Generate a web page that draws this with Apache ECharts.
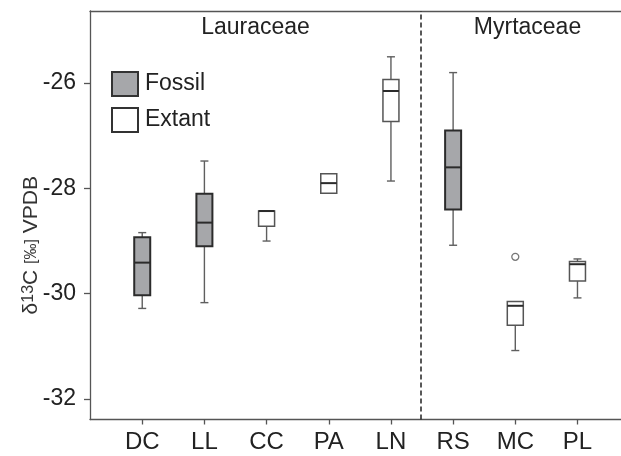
<!DOCTYPE html>
<html>
<head>
<meta charset="utf-8">
<script src="https://cdn.jsdelivr.net/npm/echarts@6/dist/echarts.min.js"></script>
<style>html,body{margin:0;padding:0;background:#fff}#c{width:621px;height:456px}</style>
</head>
<body>
<div id="c"></div>
<script>
const categories = ['DC', 'LL', 'CC', 'PA', 'LN', 'RS', 'MC', 'PL'];
const yTicks = [-32, -30, -28, -26];
// [min, Q1, median, Q3, max]
const fossilCats = ['DC', 'LL', 'RS'];
const fossilStats = [
  [-30.28, -30.03, -29.41, -28.93, -28.84],
  [-30.17, -29.10, -28.65, -28.10, -27.48],
  [-29.08, -28.40, -27.60, -26.90, -25.80]
];
const extantCats = ['CC', 'PA', 'LN', 'MC', 'PL'];
const extantStats = [
  [-29.00, -28.72, -28.43, -28.43, -28.43],
  [-28.09, -28.09, -27.90, -27.72, -27.72],
  [-27.86, -26.73, -26.15, -25.93, -25.50],
  [-31.08, -30.60, -30.23, -30.15, -30.15],
  [-30.08, -29.76, -29.44, -29.39, -29.34]
];
const outlierCats = ['MC'];
const outlierVals = [-29.30];
const groupNames = ['Lauraceae', 'Myrtaceae'];

const FONT = '"Liberation Sans", Arial, Helvetica, sans-serif';
const pos = c => categories.indexOf(c) + 1;
const build = (cats, stats) => cats.map((c, i) => [pos(c)].concat(stats[i]));

function makeRender(st) {
  return function (params, api) {
    const x = api.value(0);
    const vmin = api.value(1), q1 = api.value(2), med = api.value(3), q3 = api.value(4), vmax = api.value(5);
    const pMin = api.coord([x, vmin]), pQ1 = api.coord([x, q1]), pMed = api.coord([x, med]),
          pQ3 = api.coord([x, q3]), pMax = api.coord([x, vmax]);
    const cx = pMin[0], hw = 8, cw = 4;
    const wStyle = { stroke: '#5f5f5f', lineWidth: 1.4 };
    const ch = [];
    if (Math.abs(pMax[1] - pQ3[1]) > 0.5) {
      ch.push({ type: 'line', shape: { x1: cx, y1: pMax[1], x2: cx, y2: pQ3[1] }, style: wStyle });
      ch.push({ type: 'line', shape: { x1: cx - cw, y1: pMax[1], x2: cx + cw, y2: pMax[1] }, style: wStyle });
    }
    if (Math.abs(pMin[1] - pQ1[1]) > 0.5) {
      ch.push({ type: 'line', shape: { x1: cx, y1: pQ1[1], x2: cx, y2: pMin[1] }, style: wStyle });
      ch.push({ type: 'line', shape: { x1: cx - cw, y1: pMin[1], x2: cx + cw, y2: pMin[1] }, style: wStyle });
    }
    ch.push({ type: 'rect', shape: { x: cx - hw, y: pQ3[1], width: hw * 2, height: pQ1[1] - pQ3[1] },
      style: { fill: st.fill, stroke: st.stroke, lineWidth: st.lw } });
    ch.push({ type: 'line', shape: { x1: cx - hw, y1: pMed[1], x2: cx + hw, y2: pMed[1] },
      style: { stroke: '#2b2b2b', lineWidth: 2 } });
    return { type: 'group', children: ch };
  };
}

const fossilStyle = { fill: '#a6a7aa', stroke: '#2b2b2b', lw: 2 };
const extantStyle = { fill: '#ffffff', stroke: '#555555', lw: 1.5 };

const chart = echarts.init(document.getElementById('c'), null, { renderer: 'canvas' });
const axisLineStyle = { color: '#555', width: 1.3 };
chart.setOption({
  animation: false,
  textStyle: { fontFamily: FONT },
  grid: { left: 90, right: 0, top: 11, bottom: 36.5, containLabel: false },
  xAxis: [{
    type: 'value', min: 0.16, max: 8.7,
    axisLine: { show: true, lineStyle: axisLineStyle },
    axisTick: { show: true, length: 5, lineStyle: axisLineStyle, customValues: categories.map((c, i) => i + 1) },
    axisLabel: { customValues: categories.map((c, i) => i + 1), formatter: v => categories[Math.round(v) - 1] || '',
      fontSize: 24, color: '#222', margin: 11, fontFamily: FONT },
    splitLine: { show: false }
  }, {
    type: 'value', position: 'top', min: 0.16, max: 8.7,
    axisLine: { show: true, onZero: false, lineStyle: axisLineStyle },
    axisTick: { show: false }, axisLabel: { show: false }, splitLine: { show: false }
  }],
  yAxis: {
    type: 'value', min: -32.39, max: -24.63,
    axisLine: { show: true, lineStyle: axisLineStyle },
    axisTick: { show: true, length: 6, lineStyle: axisLineStyle, customValues: yTicks },
    axisLabel: { customValues: yTicks, fontSize: 23, color: '#222', margin: 14, fontFamily: FONT },
    splitLine: { show: false },
    name: 'δ{s|13}C {b|[‰]} VPDB',
    nameLocation: 'middle', nameGap: 48, nameMoveOverlap: false,
    nameTextStyle: { fontSize: 21, color: '#333', fontFamily: FONT, padding: [0, 60, 0, 0],
      rich: { s: { fontSize: 16, verticalAlign: 'top', color: '#333', fontFamily: FONT },
              b: { fontSize: 16, color: '#333', fontFamily: FONT } } }
  },
  legend: {
    orient: 'vertical', left: 106, top: 66, itemWidth: 26, itemHeight: 24, itemGap: 10,
    icon: 'rect',
    textStyle: { fontSize: 23, color: '#222', fontFamily: FONT, padding: [0, 0, 0, 2] },
    data: [
      { name: 'Fossil', itemStyle: { color: '#a6a7aa', borderColor: '#333', borderWidth: 2 } },
      { name: 'Extant', itemStyle: { color: '#fff', borderColor: '#333', borderWidth: 2 } }
    ]
  },
  graphic: [
    { type: 'text', style: { text: groupNames[0], font: '23px ' + FONT, fill: '#222', textAlign: 'center', textVerticalAlign: 'middle' }, x: 255.5, y: 28 },
    { type: 'text', style: { text: groupNames[1], font: '23px ' + FONT, fill: '#222', textAlign: 'center', textVerticalAlign: 'middle' }, x: 527.5, y: 28 }
  ],
  series: [
    { type: 'custom', name: 'Fossil', renderItem: makeRender(fossilStyle), data: build(fossilCats, fossilStats),
      itemStyle: { color: '#a6a7aa', borderColor: '#333' }, encode: { x: 0, y: [1, 2, 3, 4, 5] },
      markLine: { silent: true, symbol: 'none', label: { show: false },
        lineStyle: { color: '#222', width: 1.5, type: [5, 3] }, data: [{ xAxis: 5.48 }] } },
    { type: 'custom', name: 'Extant', renderItem: makeRender(extantStyle), data: build(extantCats, extantStats),
      itemStyle: { color: '#fff', borderColor: '#333' }, encode: { x: 0, y: [1, 2, 3, 4, 5] } },
    { type: 'scatter', name: 'outlier', data: outlierCats.map((c, i) => [pos(c), outlierVals[i]]),
      symbol: 'circle', symbolSize: 7, itemStyle: { color: '#fff', borderColor: '#555', borderWidth: 1.3 } }
  ]
});
</script>
</body>
</html>
